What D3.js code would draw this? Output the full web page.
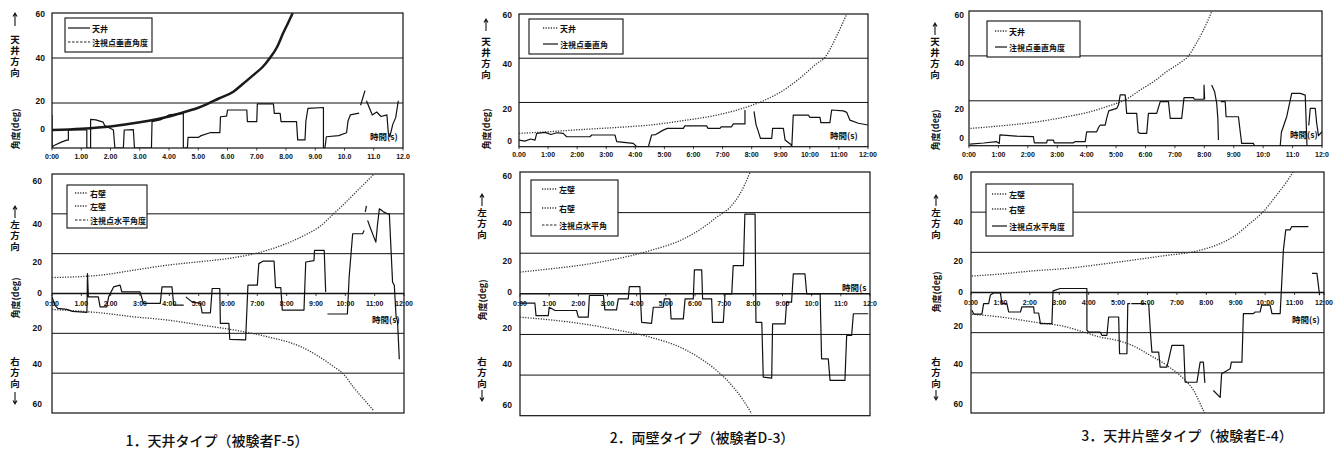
<!DOCTYPE html>
<html>
<head>
<meta charset="utf-8">
<script src="https://cdn.jsdelivr.net/npm/d3@7"></script>
<style>
  body { margin: 0; background: #fff; }
  svg text { font-family: "Liberation Sans", Arial, sans-serif; fill: #111; }
  svg text.jp { font-family: "Noto Sans CJK JP", sans-serif; }
</style>
</head>
<body>
<svg id="fig" width="1342" height="449"></svg>
<script>
// time in minutes, angle in deg (null = break in the trace)
const xTickValues = [0, 1, 2, 3, 4, 5, 6, 7, 8, 9, 10, 11, 12];
const yTicksTop = [0, 20, 40, 60];
const yTicksBottom = [-60, -40, -20, 0, 20, 40, 60];

const xLabels1T = ["0:00","1.00","2.00","3.00","4.00","5.00","6.00","7.00","8.00","9.00","10.0","11.0","12.0"];
const xLabels1B = ["0:00","1.00","2.00","3:00","4:00","5:00","6:00","7:00","8:00","9:00","10:00","11:00","12:00"];
const xLabels2T = ["0.00","1:00","2:00","3:00","4:00","5:00","6:00","7:00","8:00","9:00","10:00","11:00","12:00"];
const xLabels2B = ["0:00","1:00","2:00","3:00","4:00","5:00","6:00","7:00","8:00","9:00","10:0","11:0","12:0"];
const xLabels3T = ["0:00","1:00","2:00","3:00","4:00","5:00","6:00","7:00","8:00","9:00","10:0","11:0","12:0"];
const xLabels3B = ["0:00","1:00","2:00","3:00","4:00","5:00","6:00","7:00","8:00","9:00","10:00","11:00","12:00"];

const captions = ["1．天井タイプ（被験者F-5）", "2．両壁タイプ（被験者D-3）", "3．天井片壁タイプ（被験者E-4）"];

// ---- 1. ceiling type (F-5)
const ceiling1 = [[0,8],[1,8.6],[2,9.6],[3,11.4],[4,14],[4.5,15.9],[5,17.9],[5.3,19.5],[5.7,22],[6.2,25],[6.5,28.2],[6.88,32.4],[7.2,36],[7.45,40],[7.7,45],[7.9,51],[8.05,55],[8.23,60]];
const vertical1 = [[0,14.7],[0,0],[0.05,1],[0.3,2.5],[0.5,3.5],[0.56,3.5],[0.56,8],[1.19,8],[1.19,0],[1.32,0],[1.32,12.7],[1.5,12.5],[1.75,11.5],[1.8,10],[2.1,8],[2.15,0],[2.44,0],[2.47,8],[2.78,8.2],[2.82,0],[3.4,0],[3.42,11.7],[3.7,12.5],[4.0,14.7],[4.49,15.4],[4.49,0],[4.63,0],[4.65,4.7],[5.0,4.7],[5.1,5.5],[5.4,6.8],[5.74,6.8],[5.76,13.9],[5.97,14.2],[6.0,16.9],[6.66,16.9],[6.68,11.7],[7.0,11.7],[7.02,19.6],[7.57,19.6],[7.6,15.4],[7.8,15.4],[7.83,11.7],[8.36,11.7],[8.4,3.6],[8.65,3.6],[8.68,12],[8.75,17.6],[9.28,18],[9.28,0],[9.33,0],[9.38,5],[9.8,5.5],[10.07,6.8],[10.12,12],[10.2,14.7],[10.5,15.5],[10.5,null],[10.55,19],[10.7,25.5],[10.7,null],[10.75,21],[10.95,14.7],[11.1,16],[11.25,14],[11.45,14.7],[11.5,6.5],[11.55,5],[11.65,10.5],[11.75,13.5],[11.84,21]];
const wallUpper1 = [[0,8],[1.64,9.2],[2.78,11.7],[3.92,14.2],[5.06,16],[6.2,18],[7.34,21.7],[8.48,28.3],[9.16,34],[9.6,40],[9.96,45],[10.3,50],[10.64,55],[10.96,59.7]];
const wallLower1 = [[0,-8],[1.64,-9.7],[2.78,-11.7],[3.92,-13.3],[5.06,-15.8],[6.2,-18.3],[7.34,-21.7],[8.48,-26.7],[9.6,-36.7],[9.96,-40.8],[10.3,-47.5],[10.64,-53.3],[10.96,-58.7]];
const horizontal1 = [[0,-1.7],[0.1,-6],[0.2,-7.5],[0.5,-8],[0.7,-9],[1.19,-9.5],[1.21,10],[1.24,-1.7],[1.58,-1.7],[1.64,-6.7],[1.87,-6.7],[1.93,-1.7],[2.1,3.3],[2.32,4.2],[2.38,0.8],[3.0,0.8],[3.12,-5],[3.69,-5],[3.75,3.3],[4.09,3.3],[4.15,-5.8],[4.49,-5.8],[4.49,null],[4.56,-1.7],[4.77,-4.2],[5.06,-5],[5.12,-9.7],[5.4,-9.7],[5.46,2.5],[5.72,2.5],[5.74,-15],[6.03,-15],[6.06,-23],[6.6,-23.3],[6.68,4.2],[7.0,4.2],[7.05,15],[7.2,16.3],[7.57,16.3],[7.62,3],[7.8,3],[7.85,-8.3],[8.59,-8.3],[8.65,15.8],[8.93,16.5],[8.95,21.7],[9.28,21.7],[9.33,0.8],[9.33,null],[9.39,-10.3],[10.07,-10.3],[10.13,8.3],[10.25,30],[10.59,30],[10.64,31.7],[10.64,null],[10.68,41],[10.72,44],[10.72,null],[10.76,36.7],[10.85,33],[11.04,25.8],[11.1,35],[11.16,42.5],[11.3,41],[11.44,40],[11.5,40],[11.61,5.8],[11.67,4],[11.73,-11.7],[11.78,-14],[11.84,-33]];

// ---- 2. both-walls type (D-3)
const ceiling2 = [[0,6],[1.07,6.8],[2.21,7.8],[3.36,8.7],[4.5,9.8],[5.65,11.8],[6.8,14.3],[7.94,18.4],[8.3,20.2],[9.09,25.5],[9.66,31],[10.23,37.5],[10.52,40.4],[10.92,50],[11.27,60]];
const vertical2 = [[0,3],[0.2,2.5],[0.4,3.5],[0.55,3],[0.61,6],[0.9,6.5],[1.1,5.5],[1.3,6.3],[1.52,6],[1.64,4.5],[2.44,4.5],[2.5,5.3],[3.3,5.3],[3.36,2.3],[3.93,1.5],[4.05,0],[4.45,0],[4.56,5.3],[4.7,5.5],[4.96,7.5],[5.1,8.3],[5.65,8.3],[5.7,9.4],[6.45,9.4],[6.5,8.3],[6.91,8.3],[6.95,9],[7.31,9],[7.37,10.3],[7.77,10.3],[7.77,16.6],[7.77,null],[8.08,16],[8.15,10],[8.23,6.8],[8.3,3.8],[8.69,3.8],[8.72,8.3],[9.09,8.3],[9.15,3],[9.35,1],[9.38,0],[9.43,14.3],[9.95,14.3],[10.0,13.3],[10.35,13.3],[10.38,10.9],[10.69,10.9],[10.75,16.6],[11.15,16.2],[11.27,15.5],[11.38,12],[11.67,10.6],[12,9.8]];
const wallUpper2 = [[0,10.7],[1.03,12.3],[2.17,14.3],[3.31,17.2],[4.46,21.3],[5.6,27],[6.29,32.8],[6.74,37.7],[7.2,42.6],[7.54,49.2],[7.89,59.8]];
const wallLower2 = [[0,-11.5],[1.03,-12.8],[2.17,-14.8],[3.31,-17.7],[4.46,-21.3],[5.6,-27],[6.29,-32.8],[6.74,-37.7],[7.31,-45.9],[7.66,-52.5],[7.94,-59]];
const horizontal2 = [[0,-4.6],[0.51,-4.6],[0.55,-10.7],[0.97,-10.7],[1.0,-6.6],[1.2,-8.2],[1.94,-8.2],[2.0,-11.5],[2.34,-11.5],[2.38,-0.8],[2.86,-0.8],[2.91,-7.9],[3.31,-7.9],[3.37,-2.5],[3.71,-2.5],[3.75,3.6],[4.11,3.6],[4.17,-14],[4.51,-14.5],[4.57,-6.6],[4.91,-6.6],[4.95,-2.5],[5.14,-2.5],[5.18,-12.3],[5.6,-12.3],[5.66,-2.5],[5.94,-2.5],[5.98,11.8],[6.23,11.8],[6.26,-2.5],[6.57,-2.5],[6.6,-14],[6.97,-14],[7.03,0],[7.26,0],[7.31,13.9],[7.66,13.9],[7.71,39.3],[8.02,39.3],[8.06,39.3],[8.09,-14],[8.29,-14],[8.34,-41],[8.63,-41.5],[8.66,-14.8],[9.09,-14.8],[9.14,-4.1],[9.31,-4.1],[9.37,9.8],[9.77,9.8],[9.83,0],[10.29,0],[10.34,-32],[10.57,-32],[10.63,-42.6],[11.14,-42.6],[11.2,-20.5],[11.37,-20.5],[11.43,-9.8],[11.94,-9.8]];

// ---- 3. ceiling + one wall type (E-4)
const ceiling3 = [[0.05,7.7],[1.05,8.8],[2.19,10.4],[3.32,12.9],[4.0,14.7],[4.68,17.4],[5.36,20.8],[5.82,24.8],[6.27,28.5],[6.72,33],[7.18,37],[7.46,40],[7.7,45],[7.95,51],[8.25,59.7]];
const vertical3 = [[0.03,0.7],[0.5,1.2],[0.94,1.8],[1.03,1],[1.05,4.8],[1.6,4.3],[2.19,4],[2.22,1.3],[2.64,1.3],[2.66,2.5],[2.87,2.5],[2.9,1.3],[3.55,1.3],[3.6,1.8],[3.95,1.8],[4.0,6.2],[4.34,6.2],[4.4,8],[4.46,9.2],[4.63,9.2],[4.68,12.2],[4.75,15.5],[5.02,16.6],[5.08,18.1],[5.14,22.6],[5.31,22.6],[5.36,14.4],[5.7,14.4],[5.75,6],[5.82,5.5],[6.04,5.5],[6.1,14.4],[6.38,14.4],[6.5,19.6],[6.78,19.6],[6.84,12.2],[7.23,12.2],[7.31,21.4],[7.63,21.4],[7.66,20.7],[7.99,20.7],[7.99,27],[8.01,20.7],[8.01,null],[8.25,27],[8.35,24],[8.42,19],[8.46,12],[8.48,2.5],[8.48,null],[8.56,19.6],[8.71,19.6],[8.74,12.9],[9.16,12.9],[9.22,6.2],[9.27,1],[9.67,1],[9.7,0],[9.7,null],[10.58,0],[10.62,6],[10.8,12.9],[10.97,23.3],[11.26,23.3],[11.43,22.5],[11.49,0],[11.49,null],[11.55,9],[11.6,16.6],[11.77,16.6],[11.82,10],[11.88,4.5],[12,6.2]];
const wallUpper3 = [[0.03,8.2],[1.0,9.2],[2.13,10.8],[3.26,12],[4.39,14],[5.53,16.2],[6.66,18.5],[7.57,20.3],[8.36,23.7],[8.92,27.8],[9.49,34.5],[9.94,40.3],[10.4,48.7],[10.74,55.3],[10.96,60.3]];
const wallLower3 = [[0.03,-10.8],[1.0,-12.2],[2.13,-14.7],[3.26,-17.2],[3.83,-19.7],[4.39,-22.2],[4.96,-23.8],[5.53,-26.7],[6.09,-31.3],[6.66,-36.3],[7.23,-43],[7.57,-48.8],[7.9,-58.8],[7.96,-60.5]];
const horizontal3 = [[0.03,-8.8],[0.1,-10.8],[0.37,-10.8],[0.43,-5.5],[0.6,-5.5],[0.66,-1.2],[0.77,-0.2],[1.0,-0.2],[1.05,-5.5],[1.22,-5.5],[1.28,-9.7],[1.68,-9.7],[1.73,-7.2],[2.13,-7.2],[2.15,-10.2],[2.3,-10.2],[2.36,-15.5],[2.75,-15.5],[2.79,0.8],[3.03,2],[3.94,2],[3.94,-18.8],[4.0,-19.7],[4.39,-19.7],[4.45,-21.3],[4.62,-21.3],[4.68,-12.2],[5.02,-12.2],[5.05,-30.5],[5.3,-30.5],[5.33,-5.5],[5.41,-5.5],[5.41,null],[5.45,-5.5],[5.95,-5.5],[5.95,null],[6.04,-5.5],[6.1,-20],[6.15,-29.7],[6.38,-29.7],[6.43,-37.2],[6.66,-37.2],[6.83,-26.3],[7.23,-26.3],[7.28,-44.7],[7.68,-44.7],[7.79,-34.7],[7.9,-34.7],[7.95,-45],[7.95,null],[8.24,-48.8],[8.47,-52.2],[8.52,-40.5],[8.81,-38],[8.85,-34.7],[9.21,-34.7],[9.26,-10.5],[9.6,-10.5],[9.66,-9.7],[9.83,-9.7],[9.88,-6.3],[10.17,-6.3],[10.23,-10.5],[10.51,-10.5],[10.62,21.2],[10.7,31.2],[10.85,31.2],[10.9,32.8],[11.47,32.8],[11.47,null],[11.59,9.5],[11.76,9.5],[11.85,-1.3]];

// ---- styles
const styles = {
  thick: { w: 2.5, dash: null, c: "#1a1a1a", smooth: true },
  solid: { w: 1.2, dash: null, c: "#111" },
  dot:   { w: 1.3, dash: "1.2,1.4", c: "#333", smooth: true },
  dash:  { w: 1.0, dash: "2.5,1.5", c: "#222" }
};

const panels = [
  { xr: [52, 403], yd: [0, 60], yr: [148, 13], ticks: yTicksTop, tickY: [130, 102, 59, 15], tickX: 45,
    grid: [20, 40], xLabels: xLabels1T, xLabelY: 157,
    series: [[ceiling1, "thick"], [vertical1, "solid"]],
    legend: { box: [65, 18, 152, 52], rows: [28, 42], lx: [68, 90], items: [["天井", "solid"], ["注視点垂直角度", "dash"]] },
    side: { x: 15, upArrow: [26, 13], top: "天井方向", topStart: 35, angleY: 129 },
    time: { x: 370, y: 140, t: "時間(s)" } },
  { xr: [52, 404], yd: [-60, 60], yr: [413, 174], ticks: yTicksBottom, tickY: [405, 365, 329, 294, 263, 225, 182], tickX: 42,
    grid: [-40, -20, 0, 20, 40], xLabels: xLabels1B, xLabelY: 304,
    series: [[wallUpper1, "dot"], [wallLower1, "dot"], [horizontal1, "solid"]],
    legend: { box: [67, 185, 147, 228], rows: [193, 206, 220], lx: [75, 88], items: [["右壁", "dot"], ["左壁", "dot"], ["注視点水平角度", "dash"]] },
    side: { x: 15, upArrow: [218, 206], top: "左方向", topStart: 220, angleY: 298, bottom: "右方向", bottomStart: 357, downArrow: [392, 404] },
    time: { x: 372, y: 323, t: "時間(s)" } },
  { xr: [519, 868], yd: [0, 60], yr: [146.7, 14], ticks: yTicksTop, tickY: [141.7, 110, 65, 15.7], tickX: 512,
    grid: [20, 40], xLabels: xLabels2T, xLabelY: 155,
    series: [[ceiling2, "dot"], [vertical2, "solid"]],
    legend: { box: [529, 19, 623, 54], rows: [28, 44], lx: [543, 558], items: [["天井", "dot"], ["注視点垂直角", "solid"]] },
    side: { x: 486, upArrow: [31, 19], top: "天井方向", topStart: 37, angleY: 129 },
    time: { x: 830, y: 139, t: "時間(s)" } },
  { xr: [520, 870], yd: [-60, 60], yr: [415.7, 172], ticks: yTicksBottom, tickY: [406, 365, 329, 293, 262, 224, 177], tickX: 512,
    grid: [-40, -20, 0, 20, 40], xLabels: xLabels2B, xLabelY: 304,
    series: [[wallUpper2, "dot"], [wallLower2, "dot"], [horizontal2, "solid"]],
    legend: { box: [531, 180, 618, 236], rows: [189, 208, 225], lx: [542, 557], items: [["左壁", "dot"], ["右壁", "dot"], ["注視点水平角", "dash"]] },
    side: { x: 482, upArrow: [206, 194], top: "左方向", topStart: 208, angleY: 300, bottom: "右方向", bottomStart: 357, downArrow: [390, 401] },
    time: { x: 842, y: 291, t: "時間(s" } },
  { xr: [969, 1322], yd: [0, 60], yr: [145.7, 11], ticks: yTicksTop, tickY: [139, 110, 64, 15.7], tickX: 964,
    grid: [20, 40], xLabels: xLabels3T, xLabelY: 155,
    series: [[ceiling3, "dot"], [vertical3, "solid"]],
    legend: { box: [987, 21, 1080, 57], rows: [31, 47], lx: [995, 1007], items: [["天井", "dot"], ["注視点垂直角度", "solid"]] },
    side: { x: 935, upArrow: [35, 23], top: "天井方向", topStart: 37, angleY: 130 },
    time: { x: 1290, y: 138, t: "時間(s)" } },
  { xr: [971, 1324], yd: [-60, 60], yr: [413, 172], ticks: yTicksBottom, tickY: [405, 365, 327, 293, 262, 223, 178], tickX: 963,
    grid: [-40, -20, 0, 20, 40], xLabels: xLabels3B, xLabelY: 303,
    series: [[wallUpper3, "dot"], [wallLower3, "dot"], [horizontal3, "solid"]],
    legend: { box: [986, 184, 1073, 236], rows: [194, 209, 226], lx: [992, 1007], items: [["左壁", "dot"], ["右壁", "dot"], ["注視点水平角度", "solid"]] },
    side: { x: 936, upArrow: [206, 195], top: "左方向", topStart: 208, angleY: 292, bottom: "右方向", bottomStart: 357, downArrow: [390, 400] },
    time: { x: 1292, y: 323, t: "時間(s)" } }
];

const svg = d3.select("#fig");
svg.append("rect").attr("width", 1342).attr("height", 449).attr("fill", "#fff");

function applyStyle(sel, name) {
  const s = styles[name];
  sel.attr("fill", "none").attr("stroke", s.c).attr("stroke-width", s.w)
    .attr("stroke-dasharray", s.dash).attr("stroke-linejoin", "round");
}

// thin arrow drawn as a path: from y0 (tail) to y1 (head)
function arrow(g, x, y0, y1) {
  const d = y1 < y0 ? 1 : -1;
  g.append("path")
    .attr("d", `M${x},${y0}L${x},${y1}M${x - 2},${y1 + 3.5 * d}L${x},${y1}L${x + 2},${y1 + 3.5 * d}`)
    .attr("fill", "none").attr("stroke", "#111").attr("stroke-width", 1.1);
}

function verticalWord(g, x, top, word) {
  g.append("text").attr("class", "jp")
    .attr("x", x).attr("y", top)
    .attr("style", "writing-mode: vertical-rl; letter-spacing: 1.5px")
    .attr("font-size", 9.5).attr("font-weight", "bold")
    .text(word);
}

function drawPanel(p, i) {
  const x = d3.scaleLinear().domain([0, 12]).range(p.xr);
  const y = d3.scaleLinear().domain(p.yd).range(p.yr);
  const yl = d3.scaleLinear().domain(p.ticks).range(p.tickY);
  const g = svg.append("g");

  const clipId = "clip" + i;
  svg.append("clipPath").attr("id", clipId).append("rect")
    .attr("x", p.xr[0]).attr("y", p.yr[1])
    .attr("width", p.xr[1] - p.xr[0]).attr("height", p.yr[0] - p.yr[1]);

  g.selectAll(".grid").data(p.grid).join("line")
    .attr("x1", p.xr[0]).attr("x2", p.xr[1])
    .attr("y1", d => y(d)).attr("y2", d => y(d))
    .attr("stroke", "#111").attr("stroke-width", d => d === 0 ? 1.5 : 1);

  g.append("rect")
    .attr("x", p.xr[0]).attr("y", p.yr[1])
    .attr("width", p.xr[1] - p.xr[0]).attr("height", p.yr[0] - p.yr[1])
    .attr("fill", "none").attr("stroke", "#111").attr("stroke-width", 1.2);

  p.series.forEach(([data, st]) => {
    const line = d3.line()
      .defined(d => d[1] != null)
      .x(d => x(d[0]))
      .y(d => y(d[1]))
      .curve(styles[st].smooth ? d3.curveMonotoneX : d3.curveLinear);
    g.append("path").attr("clip-path", `url(#${clipId})`).attr("d", line(data)).call(applyStyle, st);
  });

  // x axis ticks and labels
  const axisY = p.yd[0] < 0 ? y(0) : p.yr[0];
  g.selectAll(".xtick").data(xTickValues).join("line")
    .attr("x1", d => x(d)).attr("x2", d => x(d))
    .attr("y1", axisY).attr("y2", axisY + 2.5)
    .attr("stroke", "#111").attr("stroke-width", 0.8);
  g.selectAll(".xlab").data(p.xLabels).join("text")
    .attr("x", (d, k) => x(xTickValues[k])).attr("y", p.xLabelY)
    .attr("text-anchor", "middle").attr("dominant-baseline", "middle")
    .attr("font-size", 7).attr("font-weight", "bold")
    .text(d => d);

  // y tick labels
  g.selectAll(".ylab").data(p.ticks).join("text")
    .attr("x", p.tickX).attr("y", d => yl(d))
    .attr("text-anchor", "end").attr("dominant-baseline", "middle")
    .attr("font-size", 8.5).attr("font-weight", "bold")
    .text(d => Math.abs(d));

  // legend
  const L = p.legend;
  g.append("rect")
    .attr("x", L.box[0]).attr("y", L.box[1])
    .attr("width", L.box[2] - L.box[0]).attr("height", L.box[3] - L.box[1])
    .attr("fill", "#fff").attr("stroke", "#111").attr("stroke-width", 1.1);
  L.items.forEach(([label, st], k) => {
    g.append("line")
      .attr("x1", L.lx[0]).attr("x2", L.lx[1]).attr("y1", L.rows[k]).attr("y2", L.rows[k])
      .call(applyStyle, st);
    g.append("text").attr("class", "jp")
      .attr("x", L.lx[1] + 2).attr("y", L.rows[k])
      .attr("dominant-baseline", "central")
      .attr("font-size", 8).attr("font-weight", "bold")
      .text(label);
  });

  // side labels
  const S = p.side;
  arrow(g, S.x, S.upArrow[0], S.upArrow[1]);
  verticalWord(g, S.x, S.topStart, S.top);
  if (S.bottom) {
    verticalWord(g, S.x, S.bottomStart, S.bottom);
    arrow(g, S.x, S.downArrow[0], S.downArrow[1]);
  }
  g.append("text").attr("class", "jp")
    .attr("transform", `translate(${S.x},${S.angleY}) rotate(-90)`)
    .attr("text-anchor", "middle").attr("dominant-baseline", "central")
    .attr("font-size", 9).attr("font-weight", "bold")
    .text("角度(deg)");

  // time axis title
  g.append("text").attr("class", "jp")
    .attr("x", p.time.x).attr("y", p.time.y)
    .attr("font-size", 8.5).attr("font-weight", "bold")
    .text(p.time.t);
}

panels.forEach(drawPanel);

svg.selectAll(".caption").data(captions).join("text")
  .attr("class", "jp")
  .attr("x", (d, k) => [217, 702, 1187][k])
  .attr("y", (d, k) => [446, 443, 441][k])
  .attr("text-anchor", "middle")
  .attr("font-size", 14).attr("font-weight", 500)
  .text(d => d);
</script>
</body>
</html>
